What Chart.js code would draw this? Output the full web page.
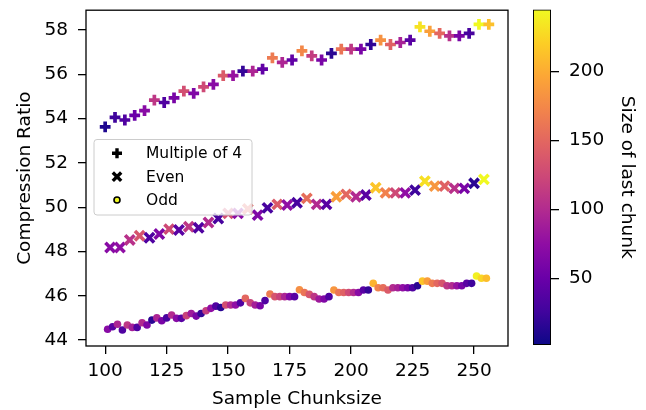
<!DOCTYPE html>
<html>
<head>
<meta charset="utf-8">
<script src="https://cdn.jsdelivr.net/npm/chart.js@4"></script>
<style>
  html, body { margin: 0; padding: 0; background: #fff; }
  #wrap { position: relative; width: 646px; height: 410px; }
  #main { position: absolute; left: 0; top: 0; width: 646px; height: 410px; }
  #cbar { position: absolute; left: 520px; top: 0; width: 126px; height: 410px; }
</style>
</head>
<body>
<div id="wrap">
  <canvas id="main" width="646" height="410"></canvas>
  <canvas id="cbar" width="126" height="410"></canvas>
</div>
<script>
// chunk sizes that are multiples of 4
const mult4Chunk = [100, 104, 108, 112, 116, 120, 124, 128, 132, 136, 140, 144, 148, 152, 156, 160, 164, 168, 172, 176,
  180, 184, 188, 192, 196, 200, 204, 208, 212, 216, 220, 224, 228, 232, 236, 240, 244, 248, 252, 256];
const mult4Ratio = [53.63, 54.06, 53.94, 54.15, 54.36, 54.84, 54.73, 54.94, 55.24, 55.14,
  55.44, 55.55, 55.94, 55.94, 56.15, 56.15, 56.24, 56.75, 56.54, 56.65,
  57.06, 56.84, 56.65, 56.95, 57.14, 57.14, 57.14, 57.35, 57.55, 57.35,
  57.44, 57.55, 58.15, 57.95, 57.85, 57.74, 57.74, 57.85, 58.26, 58.26];
const mult4Last = [10, 25, 35, 50, 70, 110, 35, 60, 130, 65,
  125, 70, 140, 80, 20, 95, 45, 165, 95, 45,
  175, 115, 60, 15, 160, 110, 60, 18, 182, 145,
  92, 40, 232, 192, 150, 105, 60, 30, 245, 212];

// even chunk sizes (not multiple of 4)
const evenChunk = [102, 106, 110, 114, 118, 122, 126, 130, 134, 138, 142, 146, 150, 154, 158, 162, 166, 170, 174, 178,
  182, 186, 190, 194, 198, 202, 206, 210, 214, 218, 222, 226, 230, 234, 238, 242, 246, 250, 254];
const evenRatio = [48.18, 48.18, 48.52, 48.71, 48.62, 48.79, 49.01, 48.97, 49.12, 49.07,
  49.31, 49.49, 49.72, 49.72, 49.92, 49.64, 49.97, 50.13, 50.1, 50.2,
  50.4, 50.13, 50.13, 50.47, 50.58, 50.47, 50.55, 50.88, 50.65, 50.65,
  50.65, 50.77, 51.18, 50.95, 50.95, 50.85, 50.85, 51.08, 51.26];
const evenLast = [70, 75, 105, 135, 35, 65, 125, 40, 110, 35,
  100, 30, 130, 70, 150, 65, 30, 140, 75, 30,
  155, 100, 40, 190, 150, 100, 40, 215, 170, 125,
  75, 25, 230, 185, 145, 105, 60, 15, 245];

// odd chunk sizes
const oddChunk = [101, 103, 105, 107, 109, 111, 113, 115, 117, 119, 121, 123, 125, 127, 129, 131, 133, 135, 137, 139,
  141, 143, 145, 147, 149, 151, 153, 155, 157, 159, 161, 163, 165, 167, 169, 171, 173, 175, 177, 179,
  181, 183, 185, 187, 189, 191, 193, 195, 197, 199, 201, 203, 205, 207, 209, 211, 213, 215, 217, 219,
  221, 223, 225, 227, 229, 231, 233, 235, 237, 239, 241, 243, 245, 247, 249, 251, 253, 255];
const oddRatio = [44.49, 44.6, 44.71, 44.45, 44.68, 44.57, 44.57, 44.78, 44.68, 44.9,
  45.0, 44.87, 45.0, 45.13, 44.98, 44.98, 45.1, 45.2, 45.08, 45.2,
  45.32, 45.43, 45.53, 45.47, 45.58, 45.58, 45.58, 45.68, 45.88, 45.68,
  45.58, 45.55, 45.78, 46.08, 45.96, 45.96, 45.96, 45.96, 45.96, 46.27,
  46.15, 46.06, 45.96, 45.85, 45.85, 45.96, 46.26, 46.15, 46.15, 46.15,
  46.15, 46.15, 46.26, 46.26, 46.56, 46.36, 46.36, 46.26, 46.36, 46.36,
  46.36, 46.36, 46.36, 46.45, 46.66, 46.66, 46.56, 46.56, 46.56, 46.45,
  46.45, 46.45, 46.45, 46.56, 46.56, 46.89, 46.79, 46.79];
const oddLast = [70, 40, 95, 35, 110, 90, 35, 100, 65, 15,
  95, 60, 30, 100, 70, 40, 120, 85, 60, 20,
  115, 75, 35, 15, 130, 100, 75, 35, 150, 120,
  90, 60, 35, 165, 135, 120, 95, 65, 40, 180,
  160, 135, 110, 85, 65, 35, 185, 160, 145, 125,
  100, 70, 40, 20, 205, 170, 155, 140, 100, 90,
  75, 60, 35, 15, 215, 190, 165, 150, 135, 110,
  100, 80, 60, 40, 25, 240, 225, 210];

const xTicks = [100, 125, 150, 175, 200, 225, 250];
const yTicks = [44, 46, 48, 50, 52, 54, 56, 58];
const cbTicks = [50, 100, 150, 200];
const cMin = 1.5, cMax = 245;

const FONT = { family: "DejaVu Sans", size: 18.5, lineHeight: 1.2 };
const LEGEND_FONT = { family: "DejaVu Sans", size: 15.5 };

// matplotlib "plasma" colormap
const plasmaStops = ["#0d0887", "#41049d", "#6a00a8", "#8f0da4", "#b12a90", "#cc4778",
  "#e16462", "#f2844b", "#fca636", "#fcce25", "#f0f921"];
const hexRgb = h => [1, 3, 5].map(i => parseInt(h.substr(i, 2), 16));
function plasma(v) {
  let t = Math.min(1, Math.max(0, (v - cMin) / (cMax - cMin)));
  const p = t * 10, i = Math.min(9, Math.floor(p)), f = p - i;
  const a = hexRgb(plasmaStops[i]), b = hexRgb(plasmaStops[i + 1]);
  const c = a.map((ch, k) => Math.round(ch + (b[k] - ch) * f));
  return `rgb(${c[0]},${c[1]},${c[2]})`;
}

const toPoints = (xs, ys) => xs.map((x, i) => ({ x, y: ys[i] }));

// keep the plot area exactly where the fixed layout puts it
const noPad = s => { s.paddingTop = 0; s.paddingBottom = 0; s.paddingLeft = 0; s.paddingRight = 0; };

// legend box drawn inside the axes, plus the full black frame
const framePlugin = {
  id: "frame",
  afterDatasetsDraw(chart) {
    const ctx = chart.ctx;
    const box = { x: 94, y: 139.5, w: 158, h: 75.5, r: 3 };
    ctx.save();
    ctx.beginPath();
    ctx.roundRect(box.x, box.y, box.w, box.h, box.r);
    ctx.fillStyle = "rgba(255,255,255,0.8)";
    ctx.fill();
    ctx.strokeStyle = "#cccccc";
    ctx.lineWidth = 1;
    ctx.stroke();

    const rows = [153.3, 176.7, 200];
    const mx = 117;
    ctx.strokeStyle = "#000";
    // plus
    ctx.lineWidth = 3.4;
    ctx.beginPath();
    ctx.moveTo(mx - 5, rows[0]); ctx.lineTo(mx + 5, rows[0]);
    ctx.moveTo(mx, rows[0] - 5); ctx.lineTo(mx, rows[0] + 5);
    ctx.stroke();
    // x
    ctx.lineWidth = 3.4;
    ctx.beginPath();
    ctx.moveTo(mx - 4.2, rows[1] - 4.2); ctx.lineTo(mx + 4.2, rows[1] + 4.2);
    ctx.moveTo(mx + 4.2, rows[1] - 4.2); ctx.lineTo(mx - 4.2, rows[1] + 4.2);
    ctx.stroke();
    // circle
    ctx.beginPath();
    ctx.arc(mx, rows[2], 3, 0, Math.PI * 2);
    ctx.fillStyle = "#f0f921";
    ctx.fill();
    ctx.lineWidth = 1.6;
    ctx.stroke();

    ctx.fillStyle = "#000";
    ctx.font = `${LEGEND_FONT.size}px ${LEGEND_FONT.family}`;
    ctx.textBaseline = "middle";
    chart.data.datasets.forEach((ds, i) => ctx.fillText(ds.label, 146, rows[i] + 1));
    ctx.restore();
  },
  afterDraw(chart) {
    const { ctx, chartArea: a } = chart;
    ctx.save();
    ctx.strokeStyle = "#000";
    ctx.lineWidth = 1.3;
    ctx.strokeRect(a.left, a.top, a.right - a.left, a.bottom - a.top);
    ctx.restore();
  }
};

const tickGrid = { drawOnChartArea: false, drawTicks: true, tickLength: 8, color: "#000", lineWidth: 1.3 };

new Chart(document.getElementById("main"), {
  type: "scatter",
  data: {
    datasets: [
      {
        label: "Multiple of 4",
        data: toPoints(mult4Chunk, mult4Ratio),
        pointStyle: "cross",
        pointRadius: 5.4,
        pointBorderWidth: 3.7,
        pointBorderColor: mult4Last.map(plasma),
        pointBackgroundColor: mult4Last.map(plasma)
      },
      {
        label: "Even",
        data: toPoints(evenChunk, evenRatio),
        pointStyle: "crossRot",
        pointRadius: 6.6,
        pointBorderWidth: 3.6,
        pointBorderColor: evenLast.map(plasma),
        pointBackgroundColor: evenLast.map(plasma)
      },
      {
        label: "Odd",
        data: toPoints(oddChunk, oddRatio),
        pointStyle: "circle",
        pointRadius: 3.8,
        pointBorderWidth: 0,
        pointBackgroundColor: oddLast.map(plasma)
      }
    ]
  },
  options: {
    responsive: false,
    animation: false,
    events: [],
    layout: { padding: { left: 0, top: 10, right: 138, bottom: 0 } },
    plugins: { legend: { display: false }, tooltip: { enabled: false } },
    scales: {
      x: {
        type: "linear",
        min: 92.2,
        max: 263.8,
        afterBuildTicks: s => { s.ticks = xTicks.map(v => ({ value: v })); },
        afterFit: s => { s.height = 64; noPad(s); },
        grid: tickGrid,
        border: { display: false },
        ticks: { color: "#000", font: FONT, padding: 6, maxRotation: 0 },
        title: { display: true, text: "Sample Chunksize", color: "#000", font: FONT, padding: { top: 0, bottom: 0 } }
      },
      y: {
        min: 43.73,
        max: 58.9,
        afterBuildTicks: s => { s.ticks = yTicks.map(v => ({ value: v })); },
        afterFit: s => { s.width = 86; noPad(s); },
        grid: tickGrid,
        border: { display: false },
        ticks: { color: "#000", font: FONT, padding: 10 },
        title: { display: true, text: "Compression Ratio", color: "#000", font: FONT, padding: { top: 14, bottom: 0 } }
      }
    }
  },
  plugins: [framePlugin]
});

// colorbar: one floating bar spanning the colour range, filled with the colormap
new Chart(document.getElementById("cbar"), {
  type: "bar",
  data: {
    labels: ["cb"],
    datasets: [{
      data: [[cMin, cMax]],
      barPercentage: 1,
      categoryPercentage: 1,
      borderColor: "#000",
      borderWidth: 1.3,
      borderSkipped: false,
      backgroundColor: c => {
        const { chart } = c;
        if (!chart.chartArea) return plasmaStops[5];
        const ys = chart.scales.y;
        const g = chart.ctx.createLinearGradient(0, ys.getPixelForValue(cMin), 0, ys.getPixelForValue(cMax));
        plasmaStops.forEach((col, i) => g.addColorStop(i / 10, col));
        return g;
      }
    }]
  },
  options: {
    responsive: false,
    animation: false,
    events: [],
    layout: { padding: { left: 13, top: 9.5, right: 0, bottom: 65 } },
    plugins: { legend: { display: false }, tooltip: { enabled: false } },
    scales: {
      x: { display: false },
      y: {
        position: "right",
        min: cMin,
        max: cMax,
        afterBuildTicks: s => { s.ticks = cbTicks.map(v => ({ value: v })); },
        afterFit: s => { s.width = 95; noPad(s); },
        grid: tickGrid,
        border: { display: false },
        ticks: { color: "#000", font: FONT, padding: 10 },
        title: { display: true, text: "Size of last chunk", color: "#000", font: FONT, padding: { top: 8.5, bottom: 0 } }
      }
    }
  }
});
</script>
</body>
</html>
